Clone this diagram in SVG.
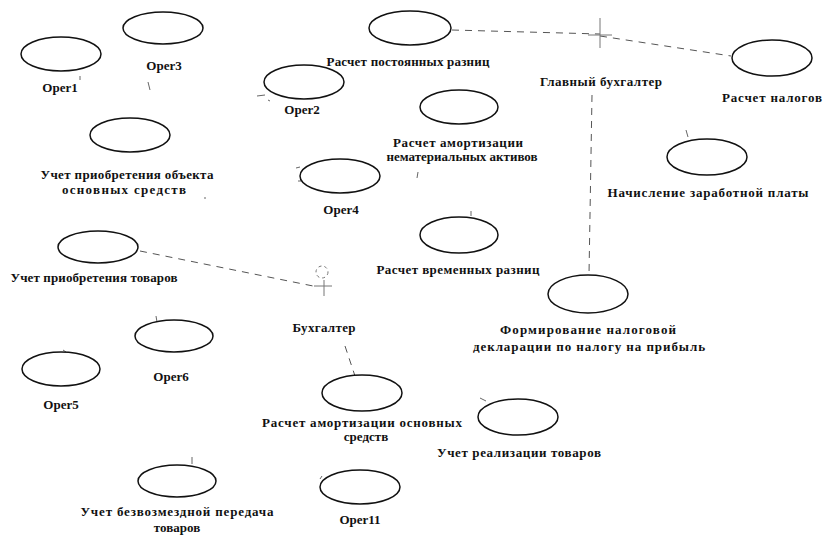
<svg xmlns="http://www.w3.org/2000/svg" width="823" height="535" viewBox="0 0 823 535">
<style>
.uc ellipse{fill:#fff;stroke:#111;stroke-width:1.5}
text{font-family:"Liberation Serif","Times New Roman",serif;font-weight:bold;font-size:13px;fill:#111;text-anchor:middle}
.con path{fill:none;stroke:#555;stroke-width:1;stroke-dasharray:7 6}
.stub path{fill:none;stroke:#666;stroke-width:1}
.actor path,.actor circle{fill:none;stroke:#777;stroke-width:1}
</style>
<rect width="823" height="535" fill="#fff"/>
<g id="connectors" class="con">
<path d="M452,30 L600,34"/>
<path d="M600,36 L731,56"/>
<path d="M592,95 L589,275"/>
<path d="M140,251 L318,287"/>
<path d="M345,346 L355,376"/>
</g>
<g class="stub">
<path d="M80,76 L80,80"/>
<path d="M148,82 L150,90"/>
<path d="M257,96 L265,95"/>
<path d="M268,100 L270,101"/>
<path d="M296,168 L300,167"/>
<path d="M298,181 L301,181"/>
<path d="M686,130 L688,137"/>
<path d="M471,211 L471,216"/>
<path d="M418,172 L417,178"/>
<path d="M156,316 L157,322"/>
<path d="M63,350 L66,352"/>
<path d="M192,457 L192,464"/>
<path d="M480,398 L486,401"/>
<path d="M320,479 L322,476"/>
<path d="M205,197 L205,199"/>
</g>
<g id="actor-glavbuh" class="actor">
<path d="M600,18 L600,48 M588,35 L612,35"/>
<text x="601" y="86" textLength="122">Главный бухгалтер</text>
</g>
<g id="actor-buh" class="actor">
<circle cx="322" cy="272" r="6" stroke-dasharray="3 3"/>
<path d="M314,286 L332,286 M324,280 L324,296"/>
<text x="324" y="332" textLength="63">Бухгалтер</text>
</g>
<g id="oper1" class="uc"><ellipse cx="61" cy="54" rx="40" ry="17"/><text x="60" y="92">Oper1</text></g>
<g id="oper3" class="uc"><ellipse cx="163" cy="28" rx="40" ry="16"/><text x="164" y="70">Oper3</text></g>
<g id="postoyannye" class="uc"><ellipse cx="410" cy="28" rx="41" ry="17"/><text x="408" y="66" textLength="163">Расчет постоянных разниц</text></g>
<g id="oper2" class="uc"><ellipse cx="304" cy="82" rx="40" ry="17"/><text x="302" y="114">Oper2</text></g>
<g id="nalogi" class="uc"><ellipse cx="772" cy="58" rx="40" ry="18"/><text x="772" y="102" textLength="100">Расчет налогов</text></g>
<g id="priobr-os" class="uc"><ellipse cx="130" cy="135" rx="40" ry="17"/><text x="127" y="179" textLength="173">Учет приобретения объекта</text><text x="124" y="194" textLength="124">основных средств</text></g>
<g id="amort-nma" class="uc"><ellipse cx="459" cy="107" rx="39" ry="17"/><text x="458" y="147" textLength="130">Расчет амортизации</text><text x="462" y="161" textLength="151">нематериальных активов</text></g>
<g id="oper4" class="uc"><ellipse cx="340" cy="176" rx="40" ry="17"/><text x="341" y="214">Oper4</text></g>
<g id="zarplata" class="uc"><ellipse cx="707" cy="157" rx="40" ry="18"/><text x="708" y="197" textLength="201">Начисление заработной платы</text></g>
<g id="priobr-tov" class="uc"><ellipse cx="98" cy="247" rx="40" ry="16"/><text x="94" y="282" textLength="167">Учет приобретения товаров</text></g>
<g id="vremennye" class="uc"><ellipse cx="459" cy="235" rx="39" ry="18"/><text x="458" y="274" textLength="163">Расчет временных разниц</text></g>
<g id="deklaraciya" class="uc"><ellipse cx="588" cy="294" rx="40" ry="19"/><text x="588" y="334" textLength="176">Формирование налоговой</text><text x="589" y="351" textLength="232">декларации по налогу на прибыль</text></g>
<g id="oper6" class="uc"><ellipse cx="174" cy="336" rx="39" ry="16"/><text x="171" y="381">Oper6</text></g>
<g id="oper5" class="uc"><ellipse cx="61" cy="369" rx="39" ry="17"/><text x="61" y="409">Oper5</text></g>
<g id="amort-os" class="uc"><ellipse cx="362" cy="393" rx="40" ry="18"/><text x="362" y="427" textLength="200">Расчет амортизации основных</text><text x="366" y="441">средств</text></g>
<g id="realizaciya" class="uc"><ellipse cx="518" cy="417" rx="40" ry="18"/><text x="519" y="457" textLength="164">Учет реализации товаров</text></g>
<g id="bezvozmezd" class="uc"><ellipse cx="177" cy="481" rx="39" ry="16"/><text x="177" y="516" textLength="193">Учет безвозмездной передача</text><text x="177" y="532" font-size="12">товаров</text></g>
<g id="oper11" class="uc"><ellipse cx="360" cy="487" rx="40" ry="17"/><text x="360" y="524">Oper11</text></g>
</svg>
